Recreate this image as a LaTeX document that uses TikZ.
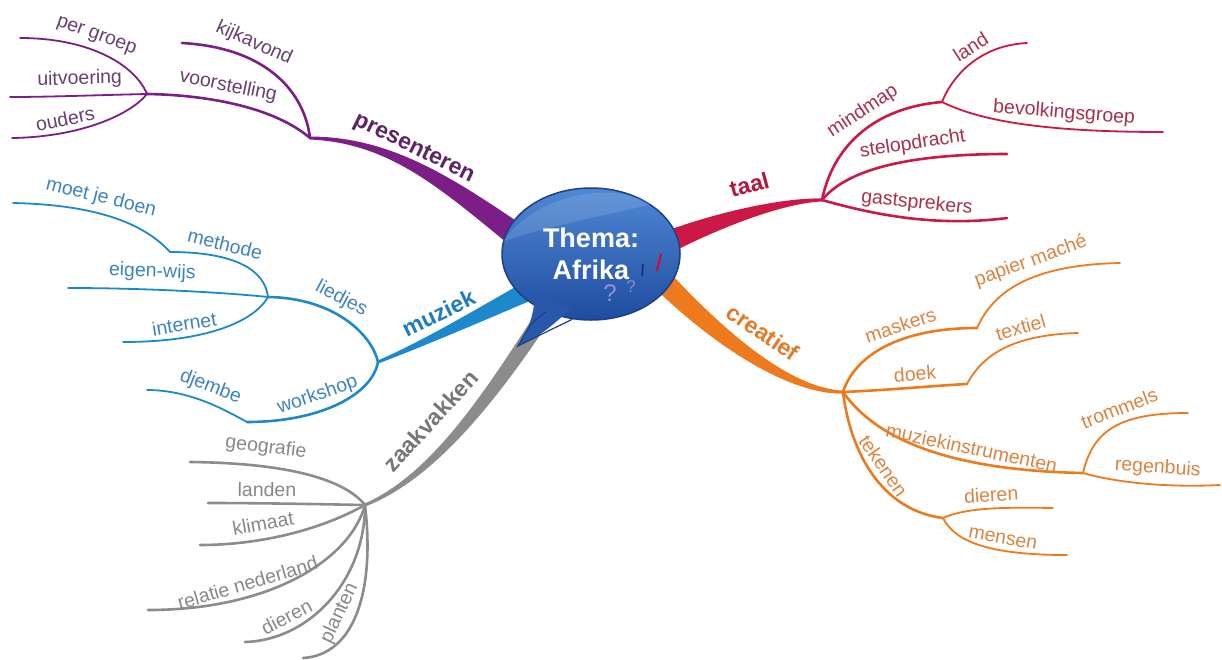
\documentclass[tikz,border=0pt]{standalone}
\usepackage{fontspec}
\setmainfont{Liberation Sans}
\usepackage{tikz}
\usetikzlibrary{shapes,calc}

\definecolor{prescol}{HTML}{7B1E86}
\definecolor{presleafc}{HTML}{6A3F72}
\definecolor{presmain}{HTML}{5E2468}
\definecolor{muzcol}{HTML}{1E88CC}
\definecolor{muzleafc}{HTML}{3D84C0}
\definecolor{muzmain}{HTML}{1E7CC0}
\definecolor{zaakcol}{HTML}{8C8C8C}
\definecolor{zaakleafc}{HTML}{888888}
\definecolor{zaakmain}{HTML}{777777}
\definecolor{taalcol}{HTML}{CC1846}
\definecolor{taalleafc}{HTML}{A8304E}
\definecolor{taalmain}{HTML}{B5163D}
\definecolor{creatcol}{HTML}{EE7A1E}
\definecolor{creatleafc}{HTML}{DC8440}
\definecolor{creatmain}{HTML}{E27A2C}
\definecolor{bubbletop}{HTML}{5088D4}
\definecolor{bubblebot}{HTML}{1F4CA0}
\definecolor{bubbleedge}{HTML}{1D3F8A}

\newcommand{\leaffont}{\fontsize{19.5}{22}\selectfont}
\newcommand{\branchfont}{\fontsize{23}{26}\selectfont\bfseries}
\newcommand{\themafont}{\fontsize{27}{32}\selectfont\bfseries}

\tikzstyle{bubble} = [ellipse, draw=bubbleedge, line width=1.5pt, top color=bubbletop,
    bottom color=bubblebot, minimum width=178pt, minimum height=132pt, inner sep=0pt,
    text=white, font=\themafont, align=center]
\tikzstyle{stem} = [draw, line width=2.6pt, line cap=round]
\tikzstyle{twig} = [draw, line width=1.8pt, line cap=round]
\tikzstyle{leaflabel} = [sloped, above=4pt, inner sep=1.5pt, font=\leaffont]
\tikzstyle{mainlabel} = [sloped, inner sep=1.5pt, font=\branchfont]
\tikzstyle{presleaf} = [leaflabel, text=presleafc]
\tikzstyle{muzleaf} = [leaflabel, text=muzleafc]
\tikzstyle{zaakleaf} = [leaflabel, text=zaakleafc]
\tikzstyle{taalleaf} = [leaflabel, text=taalleafc]
\tikzstyle{creatleaf} = [leaflabel, text=creatleafc]

% tapered main branch: colour, hub, two controls, end inside the bubble, four half widths
\newcommand{\mainbranch}[9]{%
  \fill[#1] ($(#2)!#6!90:(#3)$) .. controls ($(#3)!#7!-90:(#2)$) and ($(#4)!#8!90:(#5)$) .. ($(#5)!#9!-90:(#4)$)
    -- ($(#5)!#9!90:(#4)$) .. controls ($(#4)!#8!-90:(#5)$) and ($(#3)!#7!90:(#2)$) .. ($(#2)!#6!-90:(#3)$) -- cycle;}

\begin{document}
\begin{tikzpicture}[x=1pt, y=-1pt]
    \fill [white] (0,0) rectangle (1222,659);
    \useasboundingbox (0,0) rectangle (1222,659);
    % Place hubs and ends
    \coordinate (pres) at (310,138);
    \coordinate (voorst) at (147,94);
    \coordinate (muz) at (378,362);
    \coordinate (lied) at (268,297);
    \coordinate (meth) at (170,252);
    \coordinate (works) at (247,422);
    \coordinate (zaak) at (365,505);
    \coordinate (taal) at (822,200);
    \coordinate (mind) at (942,102);
    \coordinate (creat) at (843,392);
    \coordinate (mask) at (977,328);
    \coordinate (doek) at (967,384);
    \coordinate (muzi) at (1083,473);
    \coordinate (teken) at (943,518);
    \coordinate (pbub) at (520,238);
    \coordinate (mbub) at (530,290);
    \coordinate (zbub) at (542,318);
    \coordinate (tbub) at (668,242);
    \coordinate (cbub) at (660,278);
    \coordinate (kijk) at (182,43);
    \coordinate (pergroep) at (20,38);
    \coordinate (uitv) at (10,97);
    \coordinate (ouders) at (12,138);
    \coordinate (moet) at (13,203);
    \coordinate (eigen) at (68,288);
    \coordinate (inet) at (123,342);
    \coordinate (djembe) at (147,390);
    \coordinate (geo) at (190,462);
    \coordinate (landen) at (208,503);
    \coordinate (klim) at (200,545);
    \coordinate (relatie) at (148,610);
    \coordinate (zdier) at (245,642);
    \coordinate (plant) at (303,658);
    \coordinate (land) at (1027,43);
    \coordinate (bevolk) at (1163,132);
    \coordinate (stel) at (1007,154);
    \coordinate (gast) at (1007,218);
    \coordinate (papier) at (1120,263);
    \coordinate (textiel) at (1078,333);
    \coordinate (tromm) at (1188,413);
    \coordinate (regen) at (1220,485);
    \coordinate (cdier) at (1053,508);
    \coordinate (mens) at (1067,555);
    % Main branches
    \mainbranch{prescol}{pres}{390,140}{445,182}{pbub}{1.5pt}{3pt}{8pt}{12pt}
    \mainbranch{muzcol}{muz}{420,345}{470,320}{mbub}{1.5pt}{2.5pt}{6pt}{10pt}
    \mainbranch{zaakcol}{zaak}{430,478}{485,405}{zbub}{1.5pt}{3pt}{7pt}{8pt}
    \mainbranch{taalcol}{taal}{790,200}{730,215}{tbub}{1.5pt}{2.5pt}{7pt}{11pt}
    \mainbranch{creatcol}{creat}{800,392}{735,355}{cbub}{1.5pt}{3pt}{8pt}{11pt}
    \path (pres) .. controls (390,140) and (445,182) .. node [mainlabel, text=presmain, pos=0.45, above=4pt] {presenteren} (pbub);
    \path (muz) .. controls (420,345) and (470,320) .. node [mainlabel, text=muzmain, pos=0.5, above=10pt] {muziek} (mbub);
    \path (zaak) .. controls (430,478) and (485,405) .. node [mainlabel, text=zaakmain, pos=0.47, above=18pt] {zaakvakken} (zbub);
    \path (taal) .. controls (790,200) and (730,215) .. node [mainlabel, text=taalmain, pos=0.5, above=17pt] {taal} (tbub);
    \path (creat) .. controls (800,392) and (735,355) .. node [mainlabel, text=creatmain, pos=0.58, above=16pt] {creatief} (cbub);
    % presenteren
    \path [stem, prescol] (pres) .. controls (275,108) and (210,95) .. node [presleaf, pos=0.58] {voorstelling} (voorst);
    \path [stem, prescol] (pres) .. controls (305,95) and (270,48) .. node [presleaf, pos=0.7] {kijkavond} (kijk);
    \path [twig, prescol] (voorst) .. controls (135,65) and (90,38) .. node [presleaf, pos=0.6] {per groep} (pergroep);
    \path [twig, prescol] (voorst) .. controls (100,95) and (50,97) .. node [presleaf, pos=0.47, above=1pt] {uitvoering} (uitv);
    \path [twig, prescol] (voorst) .. controls (130,115) and (80,137) .. node [presleaf, pos=0.7] {ouders} (ouders);
    % muziek
    \path [stem, muzcol] (muz) .. controls (372,335) and (335,298) .. node [muzleaf, pos=0.6] {liedjes} (lied);
    \path [stem, muzcol] (muz) .. controls (372,395) and (320,422) .. node [muzleaf, pos=0.6] {workshop} (works);
    \path [twig, muzcol] (lied) .. controls (265,270) and (235,252) .. node [muzleaf, pos=0.68] {methode} (meth);
    \path [twig, muzcol] (meth) .. controls (150,230) and (110,205) .. node [muzleaf, pos=0.64] {moet je doen} (moet);
    \path [twig, muzcol] (lied) .. controls (230,293) and (150,288) .. node [muzleaf, pos=0.65, above=2pt] {eigen-wijs} (eigen);
    \path [twig, muzcol] (lied) .. controls (255,320) and (210,342) .. node [muzleaf, pos=0.72] {internet} (inet);
    \path [twig, muzcol] (works) .. controls (225,410) and (190,390) .. node [muzleaf, pos=0.5] {djembe} (djembe);
    % zaakvakken
    \path [stem, zaakcol] (zaak) .. controls (345,480) and (290,463) .. node [zaakleaf, pos=0.72, above=3pt] {geografie} (geo);
    \path [stem, zaakcol] (zaak) .. controls (310,504) and (260,503) .. node [zaakleaf, pos=0.62] {landen} (landen);
    \path [stem, zaakcol] (zaak) .. controls (320,530) and (260,545) .. node [zaakleaf, pos=0.63, above=2pt] {klimaat} (klim);
    \path [stem, zaakcol] (zaak) .. controls (350,560) and (270,610) .. node [zaakleaf, pos=0.68] {relatie nederland} (relatie);
    \path [stem, zaakcol] (zaak) .. controls (365,580) and (310,640) .. node [zaakleaf, pos=0.74] {dieren} (zdier);
    \path [stem, zaakcol] (zaak) .. controls (375,590) and (355,655) .. node [zaakleaf, pos=0.55] {planten} (plant);
    % taal
    \path [stem, taalcol] (taal) .. controls (832,150) and (870,108) .. node [taalleaf, pos=0.6] {mindmap} (mind);
    \path [stem, taalcol] (taal) .. controls (845,172) and (900,154) .. node [taalleaf, pos=0.66, above=0pt] {stelopdracht} (stel);
    \path [stem, taalcol] (taal) .. controls (865,212) and (930,228) .. node [taalleaf, pos=0.57] {gastsprekers} (gast);
    \path [twig, taalcol] (mind) .. controls (955,70) and (985,45) .. node [taalleaf, pos=0.55] {land} (land);
    \path [twig, taalcol] (mind) .. controls (975,118) and (1030,132) .. node [taalleaf, pos=0.7] {bevolkingsgroep} (bevolk);
    % creatief
    \path [stem, creatcol] (creat) .. controls (855,355) and (900,328) .. node [creatleaf, pos=0.63] {maskers} (mask);
    \path [twig, creatcol] (mask) .. controls (992,295) and (1025,265) .. node [creatleaf, pos=0.62] {papier maché} (papier);
    \path [stem, creatcol] (creat) .. controls (890,390) and (930,386) .. node [creatleaf, pos=0.56] {doek} (doek);
    \path [twig, creatcol] (doek) .. controls (980,360) and (1005,335) .. node [creatleaf, pos=0.7] {textiel} (textiel);
    \path [stem, creatcol] (creat) .. controls (870,430) and (930,470) .. node [creatleaf, pos=0.7] {muziekinstrumenten} (muzi);
    \path [twig, creatcol] (muzi) .. controls (1093,430) and (1120,413) .. node [creatleaf, pos=0.6, above=1pt] {trommels} (tromm);
    \path [twig, creatcol] (muzi) .. controls (1110,481) and (1160,488) .. node [creatleaf, pos=0.62, above=1pt] {regenbuis} (regen);
    \path [stem, creatcol] (creat) .. controls (850,450) and (880,510) .. node [creatleaf, pos=0.5] {tekenen} (teken);
    \path [twig, creatcol] (teken) .. controls (965,508) and (1000,507) .. node [creatleaf, pos=0.55] {dieren} (cdier);
    \path [twig, creatcol] (teken) .. controls (955,542) and (990,555) .. node [creatleaf, pos=0.65] {mensen} (mens);
    % Place the bubble
    \node [bubble] (thema) at (591,254) {Thema:\\Afrika};
    \fill [bubblebot!80!bubbletop] (536,294) .. controls (531,323) .. (518,346) .. controls (542,334) .. (571,309) -- cycle;
    \draw [bubbleedge, line width=1.2pt] (thema.232) .. controls (531,323) .. (518,346) .. controls (542,334) .. (thema.254);
    \fill [white, opacity=0.12] (thema.172) .. controls (535,195) and (610,180) .. (thema.40) .. controls (625,212) and (560,222) .. (thema.172) -- cycle;
    \node [text=gray!60!blue!60, font=\fontsize{24}{24}\selectfont] (q1) at (610,293) {?};
    \node [text=blue!30!gray!70, font=\fontsize{17}{17}\selectfont] (q2) at (631,287) {?};
    \draw [red!60!purple, line width=1.8pt] (657,271) -- (661,254);
    \draw [bubbleedge!70!black, line width=1.4pt] (642,276) -- (643,264);
\end{tikzpicture}
\end{document}
